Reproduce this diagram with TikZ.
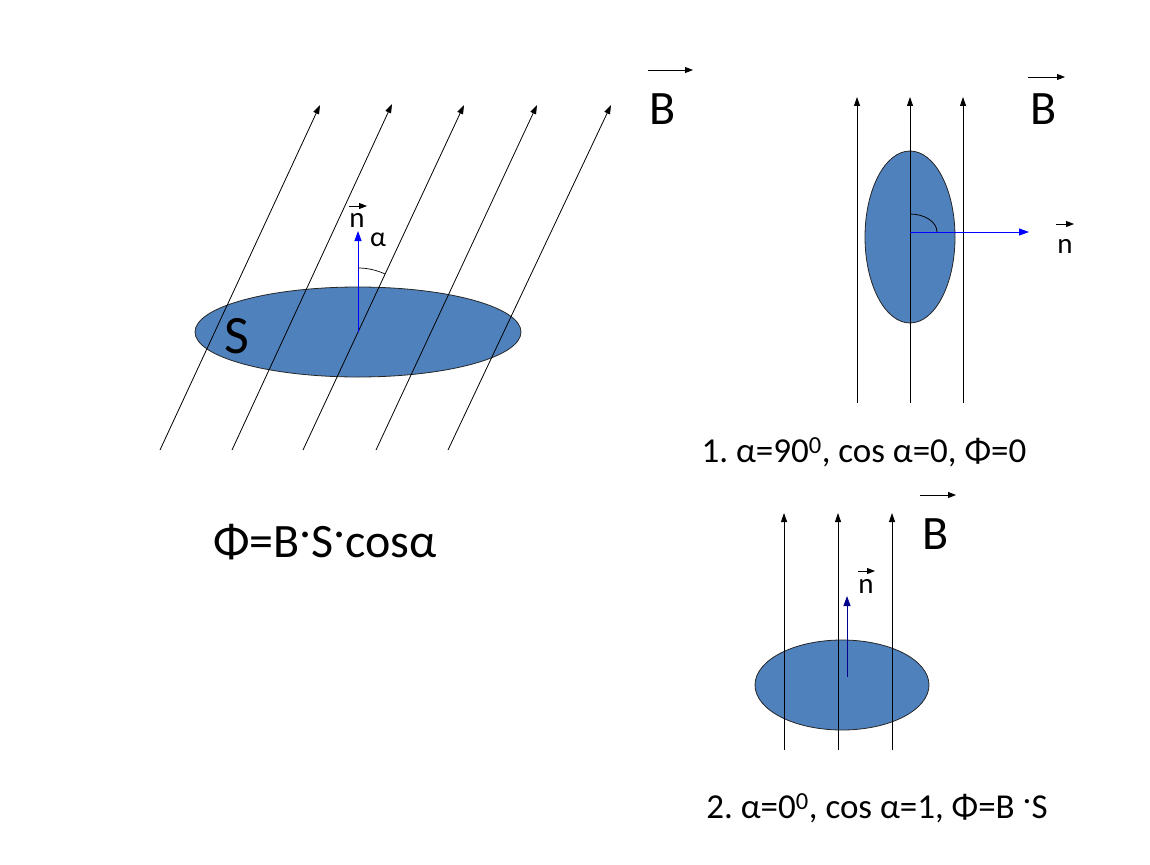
\documentclass[tikz,border=0pt]{standalone}
\usepackage{fontspec}
\setmainfont{Carlito}
\usetikzlibrary{shapes.geometric,arrows.meta}
\definecolor{diskblue}{HTML}{4F81BD}
\definecolor{navyn}{RGB}{0,0,140}
\newcommand{\hdot}{\raisebox{0.42em}{.}}
\frenchspacing
\tikzset{
  fieldline/.style={-{Triangle[length=9pt,width=6pt]}, line width=0.8pt},
  normalvec/.style={-{Triangle[length=10pt,width=7pt]}, blue, line width=1pt},
  vecbar/.style={-{Triangle[length=8pt,width=6pt]}, line width=0.9pt},
  disk/.style={ellipse, draw=black!85, fill=diskblue, line width=0.8pt, inner sep=0pt},
  bigB/.style={font=\fontsize{48}{48}\selectfont},
  smalln/.style={font=\fontsize{29}{29}\selectfont},
  caption/.style={font=\fontsize{35}{35}\selectfont}
}
\begin{document}
\begin{tikzpicture}[x=1pt,y=-1pt]
    \useasboundingbox (0,0) rectangle (1150,864);

    % Left: oblique field through a flat surface
    \node[disk, minimum width=326pt, minimum height=90pt] (s1) at (358,332) {};
    \coordinate (a1) at (160,450); \coordinate (b1) at (320,105);
    \coordinate (a2) at (232,450); \coordinate (b2) at (392,104);
    \coordinate (a3) at (303,450); \coordinate (b3) at (464,105);
    \coordinate (a4) at (376,450); \coordinate (b4) at (537,105);
    \coordinate (a5) at (448,450); \coordinate (b5) at (611,105);
    \draw[fieldline] (a1) -- (b1);
    \draw[fieldline] (a2) -- (b2);
    \draw[fieldline] (a3) -- (b3);
    \draw[fieldline] (a4) -- (b4);
    \draw[fieldline] (a5) -- (b5);
    \coordinate (n1) at (358,231);
    \draw[normalvec] (s1.center) -- (n1);
    \draw[line width=0.7pt] (358,268) arc[start angle=-90, end angle=-65, radius=64];
    \node[font=\fontsize{28}{28}\selectfont] (alpha1) at (378,240) {α};
    \node[smalln] (nl1) at (357,220) {n};
    \coordinate (v1a) at (349,206); \coordinate (v1b) at (367,206);
    \draw[vecbar] (v1a) -- (v1b);
    \node[font=\fontsize{54}{54}\selectfont] (S1) at (237,336) {S};
    \coordinate (B1a) at (648,70); \coordinate (B1b) at (693,70);
    \draw[vecbar] (B1a) -- (B1b);
    \node[bigB] (B1) at (663,109) {B};
    \node[font=\fontsize{48}{48}\selectfont] (flux) at (325,542)
        {Φ=B\hdot S\hdot cosα};

    % Right top: field parallel to the surface
    \node[disk, minimum width=90pt, minimum height=172pt] (s2) at (910,237) {};
    \coordinate (c1) at (857,403); \coordinate (d1) at (857,97);
    \coordinate (c2) at (910,403); \coordinate (d2) at (910,97);
    \coordinate (c3) at (963,403); \coordinate (d3) at (963,97);
    \draw[fieldline] (c1) -- (d1);
    \draw[fieldline] (c2) -- (d2);
    \draw[fieldline] (c3) -- (d3);
    \coordinate (o2) at (910,232); \coordinate (n2) at (1029,232);
    \draw[normalvec] (o2) -- (n2);
    \draw[line width=0.8pt] (910,214) arc[start angle=-90, end angle=0, x radius=27, y radius=18];
    \node[smalln] (nl2) at (1065,246) {n};
    \coordinate (v2a) at (1056,224); \coordinate (v2b) at (1074,224);
    \draw[vecbar] (v2a) -- (v2b);
    \coordinate (B2a) at (1028,77); \coordinate (B2b) at (1065,77);
    \draw[vecbar] (B2a) -- (B2b);
    \node[bigB] (B2) at (1044,109) {B};
    \node[caption] (case1) at (864,452) {1. α=90\textsuperscript{0}, cos α=0, Φ=0};

    % Right bottom: field along the normal
    \node[disk, minimum width=174pt, minimum height=90pt] (s3) at (842,685) {};
    \coordinate (e1) at (784,750); \coordinate (f1) at (784,513);
    \coordinate (e2) at (838,750); \coordinate (f2) at (838,513);
    \coordinate (e3) at (892,750); \coordinate (f3) at (892,513);
    \draw[fieldline] (e1) -- (f1);
    \draw[fieldline] (e2) -- (f2);
    \draw[fieldline] (e3) -- (f3);
    \coordinate (o3) at (847,677); \coordinate (n3) at (847,596);
    \draw[normalvec, navyn] (o3) -- (n3);
    \node[smalln] (nl3) at (866,586) {n};
    \coordinate (v3a) at (858,571); \coordinate (v3b) at (875,571);
    \draw[vecbar] (v3a) -- (v3b);
    \coordinate (B3a) at (920,495); \coordinate (B3b) at (956,495);
    \draw[vecbar] (B3a) -- (B3b);
    \node[bigB] (B3) at (936,534) {B};
    \node[caption] (case2) at (877,808) {2. α=0\textsuperscript{0}, cos α=1, Φ=B \hdot S};
\end{tikzpicture}
\end{document}
